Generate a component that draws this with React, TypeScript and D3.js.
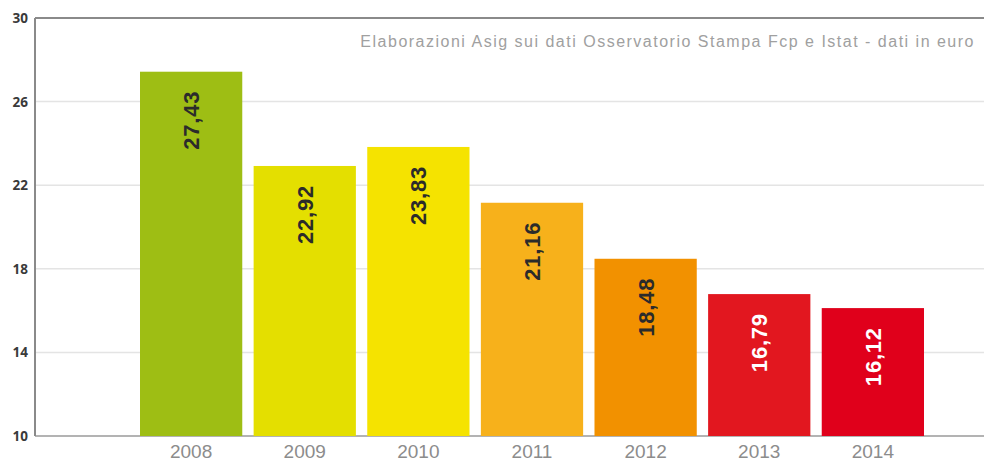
import React from "react";
import * as d3 from "d3";

const years = ["2008", "2009", "2010", "2011", "2012", "2013", "2014"];
const values = [27.43, 22.92, 23.83, 21.16, 18.48, 16.79, 16.12];
const labels = ["27,43", "22,92", "23,83", "21,16", "18,48", "16,79", "16,12"];
const colors = ["#9ebe14", "#e4df00", "#f5e300", "#f7b11b", "#f29100", "#e2171f", "#e0001b"];
const labelColors = ["#2b2b2b", "#2b2b2b", "#2b2b2b", "#2b2b2b", "#2b2b2b", "#ffffff", "#ffffff"];
const yTicks = [10, 14, 18, 22, 26, 30];
const note = "Elaborazioni Asig sui dati Osservatorio Stampa Fcp e Istat - dati in euro";

const W = 984;
const H = 462;
const left = 35;
const right = 984;
const top = 18;
const bottom = 436;

export default function App() {
  const y = d3.scaleLinear().domain([10, 30]).range([bottom, top]);
  const x = d3.scaleBand().domain(years).range([140, 924]).paddingInner(0.1).paddingOuter(0);

  return (
    <div style={{ position: "fixed", left: 0, top: 0 }}>
      <svg width={W} height={H} style={{ display: "block", background: "#fff" }}>
        {yTicks.slice(1, -1).map((t) => (
          <line key={t} x1={left} x2={right} y1={y(t)} y2={y(t)} stroke="#e4e4e4" strokeWidth={1.5} />
        ))}
        <line x1={left} x2={right} y1={top} y2={top} stroke="#8a8a8a" strokeWidth={2} />
        <line x1={left} x2={right} y1={bottom} y2={bottom} stroke="#9a9a9a" strokeWidth={1.5} />
        <line x1={left} x2={left} y1={top} y2={bottom} stroke="#8a8a8a" strokeWidth={2} />
        {yTicks.map((t) => (
          <text key={t} x={28} y={y(t) + 5} textAnchor="end" fontFamily="'Open Sans', sans-serif" fontWeight="bold" fontSize={13.5} fill="#3a3a3a">
            {t}
          </text>
        ))}
        <text x={975} y={47} textAnchor="end" fontFamily="'Liberation Sans', Arial, sans-serif" fontSize={16} letterSpacing={1.5} fill="#a0a0a0">
          {note}
        </text>
        {years.map((yr, i) => {
          const bx = x(yr) as number;
          const bw = x.bandwidth();
          const by = y(values[i]);
          const cx = bx + bw / 2;
          return (
            <g key={yr}>
              <rect x={bx} y={by} width={bw} height={bottom - by} fill={colors[i]} />
              <text
                transform={`translate(${cx + 8},${by + 19}) rotate(-90)`}
                textAnchor="end"
                fontFamily="'Liberation Sans', Arial, sans-serif"
                fontWeight="bold"
                fontSize={22}
                letterSpacing={0.8}
                fill={labelColors[i]}
              >
                {labels[i]}
              </text>
              <text x={cx} y={458} textAnchor="middle" fontFamily="'Liberation Sans', Arial, sans-serif" fontSize={19} fill="#8c8c8c">
                {yr}
              </text>
            </g>
          );
        })}
      </svg>
    </div>
  );
}
